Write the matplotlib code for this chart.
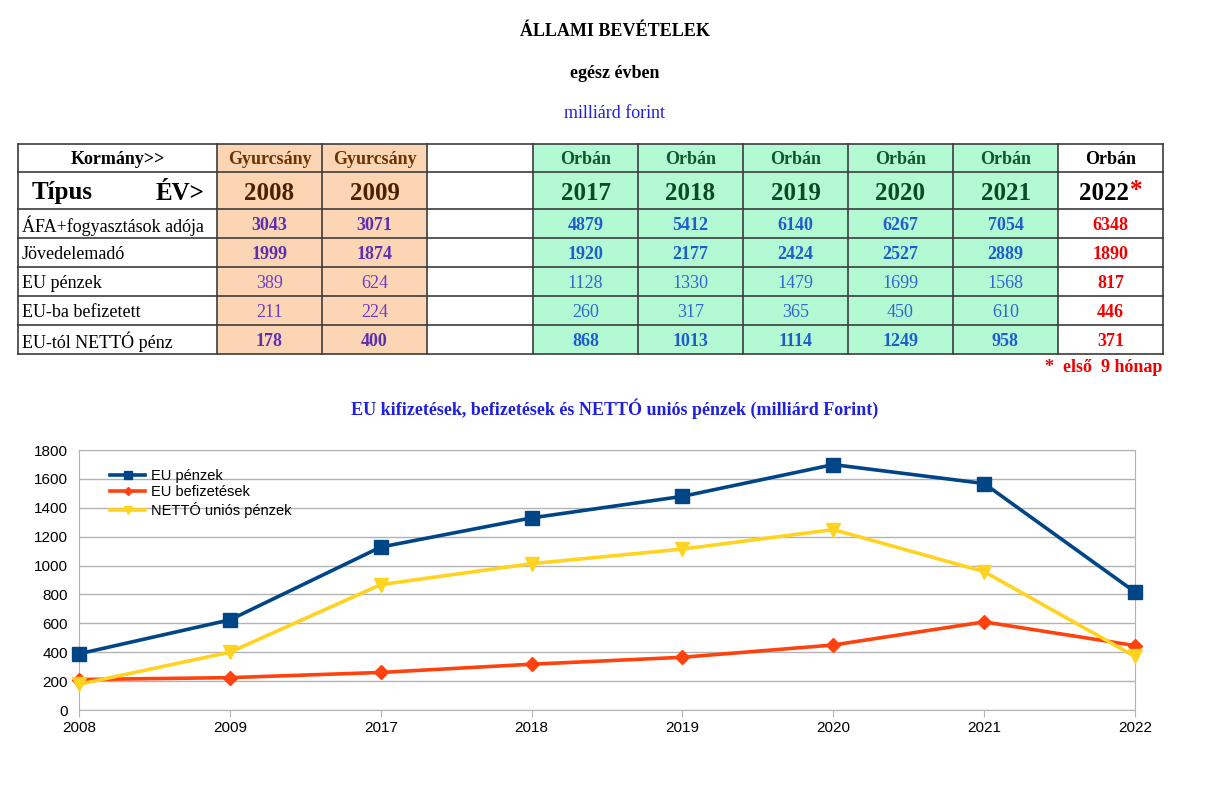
import numpy as np
import matplotlib.pyplot as plt
from matplotlib.patches import Rectangle

# --- adatok ---
years = ["2008", "2009", "2017", "2018", "2019", "2020", "2021", "2022"]
govs = ["Gyurcsány", "Gyurcsány", "Orbán", "Orbán", "Orbán", "Orbán", "Orbán", "Orbán"]
row_labels = ["ÁFA+fogyasztások adója", "Jövedelemadó", "EU pénzek",
              "EU-ba befizetett", "EU-tól NETTÓ pénz"]
afa = [3043, 3071, 4879, 5412, 6140, 6267, 7054, 6348]
jovedelem = [1999, 1874, 1920, 2177, 2424, 2527, 2889, 1890]
eu_penz = [389, 624, 1128, 1330, 1479, 1699, 1568, 817]
eu_befiz = [211, 224, 260, 317, 365, 450, 610, 446]
netto = [178, 400, 868, 1013, 1114, 1249, 958, 371]
table_rows = [afa, jovedelem, eu_penz, eu_befiz, netto]
row_bold = [True, True, False, False, True]

W, H = 1232, 787
fig = plt.figure(figsize=(W / 100, H / 100), dpi=100)
bg = fig.add_axes([0, 0, 1, 1])
bg.set_xlim(0, W)
bg.set_ylim(H, 0)
bg.axis("off")

SERIF = "Liberation Serif"
SANS = "Liberation Sans"
VA = "center_baseline"

# cimek
bg.text(615, 30, "ÁLLAMI BEVÉTELEK", ha="center", va=VA, fontsize=13,
        fontweight="bold", family=SERIF)
bg.text(615, 72, "egész évben", ha="center", va=VA, fontsize=13,
        fontweight="bold", family=SERIF)
bg.text(615, 112, "milliárd forint", ha="center", va=VA, fontsize=13,
        color="#1f1fe0", family=SERIF)

# --- tablazat ---
col_x = [18, 217, 322, 427, 533, 638, 743, 848, 953, 1058, 1163]
row_y = [144, 172, 209, 238, 267, 296, 325, 354]
data_cols = [1, 2, 4, 5, 6, 7, 8, 9]  # az ures oszlop kimarad

peach = "#fcd5b5"
green = "#b3fad4"
border = "#3c3c3c"

for j, c in enumerate(data_cols):
    if govs[j] == "Gyurcsány":
        fc = peach
    elif years[j] == "2022":
        fc = "white"
    else:
        fc = green
    bg.add_patch(Rectangle((col_x[c], row_y[0]), col_x[c + 1] - col_x[c],
                           row_y[-1] - row_y[0], facecolor=fc, edgecolor="none"))

for y in row_y:
    bg.plot([col_x[0], col_x[-1]], [y, y], color=border, lw=1.2)
for x in col_x:
    bg.plot([x, x], [row_y[0], row_y[-1]], color=border, lw=1.2)

def cy(i):
    return (row_y[i] + row_y[i + 1]) / 2

bg.text((col_x[0] + col_x[1]) / 2, cy(0), "Kormány>>", ha="center", va=VA,
        fontsize=13, fontweight="bold", family=SERIF)
bg.text(32, cy(1), "Típus", ha="left", va=VA, fontsize=18,
        fontweight="bold", family=SERIF)
bg.text(204, cy(1), "ÉV>", ha="right", va=VA, fontsize=18,
        fontweight="bold", family=SERIF)

for i, lab in enumerate(row_labels):
    bg.text(22, cy(i + 2), lab, ha="left", va=VA, fontsize=13, family=SERIF)

for j, c in enumerate(data_cols):
    xc = (col_x[c] + col_x[c + 1]) / 2
    if govs[j] == "Gyurcsány":
        hc, yc, nb, nn = "#6b3300", "#4a2200", "#5a2fb0", "#6d3ccb"
    elif years[j] == "2022":
        hc, yc, nb, nn = "black", "black", "#f00000", "#f00000"
    else:
        hc, yc, nb, nn = "#0b5a2a", "#0b4a22", "#1f5ccc", "#2f66d0"
    bg.text(xc, cy(0), govs[j], ha="center", va=VA, fontsize=13,
            fontweight="bold", color=hc, family=SERIF)
    if years[j] == "2022":
        bg.text(xc + 19, cy(1), years[j], ha="right", va=VA, fontsize=18,
                fontweight="bold", color=yc, family=SERIF)
        bg.text(xc + 19, cy(1) - 2, "*", ha="left", va=VA, fontsize=18,
                fontweight="bold", color="#f00000", family=SERIF)
    else:
        bg.text(xc, cy(1), years[j], ha="center", va=VA, fontsize=18,
                fontweight="bold", color=yc, family=SERIF)
    for i, row in enumerate(table_rows):
        bold = row_bold[i] or years[j] == "2022"
        bg.text(xc, cy(i + 2), str(row[j]), ha="center", va=VA, fontsize=13,
                fontweight="bold" if bold else "normal",
                color=nb if row_bold[i] else nn, family=SERIF)

bg.text(1162, 365, "*  első  9 hónap", ha="right", va=VA, fontsize=13,
        fontweight="bold", color="#f00000", family=SERIF)

bg.text(615, 407, "EU kifizetések, befizetések és NETTÓ uniós pénzek (milliárd Forint)",
        ha="center", va=VA, fontsize=13, fontweight="bold",
        color="#1f1fe0", family=SERIF)

# --- diagram ---
left, right, top, bottom = 79, 1135, 450, 710
ax = fig.add_axes([left / W, 1 - bottom / H, (right - left) / W, (bottom - top) / H])
x = np.arange(len(years))
ax.plot(x, eu_penz, color="#004586", lw=2.6, marker="s", markersize=10,
        label="EU pénzek", clip_on=False, zorder=4)
ax.plot(x, eu_befiz, color="#ff420e", lw=2.6, marker="D", markersize=7,
        label="EU befizetések", clip_on=False, zorder=3)
ax.plot(x, netto, color="#ffd320", lw=2.6, marker="v", markersize=10,
        label="NETTÓ uniós pénzek", clip_on=False, zorder=3)

ax.set_xlim(0, len(years) - 1)
ax.set_ylim(0, 1800)
ax.set_yticks(range(0, 1801, 200))
ax.set_xticks(x)
ax.set_xticklabels(years)
ax.grid(axis="y", color="#b3b3b3", lw=1)
ax.set_axisbelow(True)
for s in ax.spines.values():
    s.set_color("#b3b3b3")
ax.tick_params(axis="y", length=0, pad=8, labelsize=11)
ax.tick_params(axis="x", length=5, color="#b3b3b3", pad=3, labelsize=11)
for t in ax.get_xticklabels() + ax.get_yticklabels():
    t.set_family(SANS)

ax.legend(loc="upper left", bbox_to_anchor=(0.02, 0.965), frameon=False,
          prop={"family": SANS, "size": 10.5}, handlelength=2.4,
          handletextpad=0.4, labelspacing=0.15, borderpad=0.2, markerscale=0.6)

fig.savefig("out.png", dpi=100)
